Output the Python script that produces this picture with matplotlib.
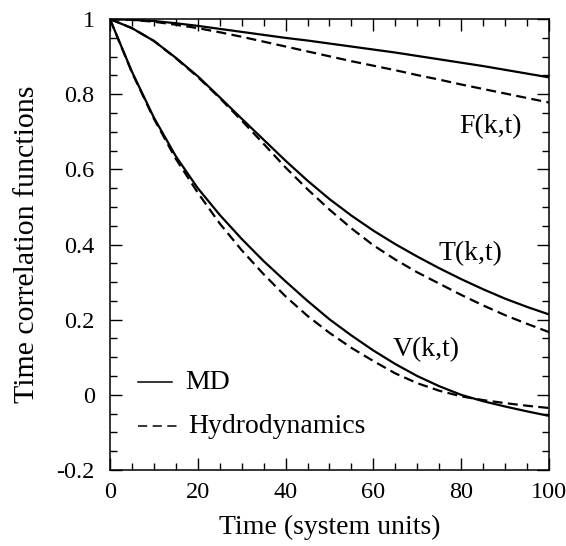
import numpy as np
import matplotlib.pyplot as plt
from matplotlib.ticker import MultipleLocator

plt.rcParams['font.family'] = ['Liberation Serif', 'DejaVu Serif']

t = [0, 5, 10, 15, 20, 25, 30, 35, 40, 45, 50, 55, 60, 65, 70, 75, 80, 85, 90, 95, 100]

# F(k,t)
F_md = [1.0, 0.998, 0.995, 0.989, 0.982, 0.974, 0.966, 0.958, 0.95, 0.943, 0.935, 0.927, 0.919,
        0.911, 0.902, 0.893, 0.884, 0.875, 0.865, 0.855, 0.845]
F_hy = [1.0, 0.998, 0.993, 0.985, 0.976, 0.965, 0.953, 0.94, 0.927, 0.914, 0.901, 0.888, 0.876,
        0.864, 0.851, 0.839, 0.826, 0.814, 0.802, 0.79, 0.778]
# T(k,t)
T_md = [1.0, 0.976, 0.942, 0.897, 0.848, 0.792, 0.735, 0.679, 0.623, 0.57, 0.521, 0.477, 0.437,
        0.401, 0.368, 0.337, 0.308, 0.281, 0.256, 0.234, 0.214]
T_hy = [1.0, 0.976, 0.942, 0.896, 0.846, 0.79, 0.73, 0.668, 0.605, 0.547, 0.493, 0.443, 0.398,
        0.36, 0.326, 0.296, 0.266, 0.238, 0.212, 0.189, 0.167]
# V(k,t)
V_md = [1.0, 0.86, 0.738, 0.635, 0.55, 0.479, 0.415, 0.356, 0.302, 0.25, 0.201, 0.158, 0.118,
        0.082, 0.05, 0.023, 0.0, -0.017, -0.031, -0.044, -0.056]
V_hy = [1.0, 0.858, 0.735, 0.628, 0.538, 0.456, 0.385, 0.321, 0.262, 0.21, 0.165, 0.125, 0.09,
        0.057, 0.031, 0.011, -0.004, -0.014, -0.022, -0.029, -0.035]

fig = plt.figure(figsize=(5.66, 5.46), dpi=100)
ax = fig.add_axes([0.1943, 0.1392, 0.7757, 0.8258])

lw = 1.6
dash = (0, (4.5, 2.4))
ax.plot(t, F_md, 'k-', lw=lw)
ax.plot(t, F_hy, color='k', ls=dash, lw=lw)
ax.plot(t, T_md, 'k-', lw=lw)
ax.plot(t, T_hy, color='k', ls=dash, lw=lw)
ax.plot(t, V_md, 'k-', lw=lw)
ax.plot(t, V_hy, color='k', ls=dash, lw=lw)

ax.text(79.5, 0.715, 'F(k,t)', fontsize=20, va='center')
ax.text(74.8, 0.375, 'T(k,t)', fontsize=20, va='center')
ax.text(64.5, 0.12, 'V(k,t)', fontsize=20, va='center')

# legend drawn by hand
ax.plot([6.4, 14.1], [0.033, 0.033], 'k-', lw=1.1)
ax.text(17.1, 0.033, 'MD', fontsize=20, va='center')
ax.plot([6.4, 15.6], [-0.084, -0.084], color='k', ls=(0, (6, 3.6)), lw=1.1)
ax.text(17.8, -0.084, 'Hydrodynamics', fontsize=20, va='center')

ax.set_xlim(0, 100)
ax.set_ylim(-0.2, 1.0)
ax.xaxis.set_major_locator(MultipleLocator(20))
ax.xaxis.set_minor_locator(MultipleLocator(5))
ax.yaxis.set_minor_locator(MultipleLocator(0.05))
ax.set_yticks([-0.2, 0, 0.2, 0.4, 0.6, 0.8, 1.0])
ax.set_yticklabels(['-0.2', '0', '0.2', '0.4', '0.6', '0.8', '1'])
ax.tick_params(which='both', direction='in', top=True, right=True, labelsize=17.5, width=1)
ax.tick_params(which='major', length=8.5)
ax.tick_params(which='minor', length=5)
ax.tick_params(axis='y', pad=11)
ax.tick_params(axis='x', pad=9)
for s in ax.spines.values():
    s.set_linewidth(1.1)

ax.set_xlabel('Time (system units)', fontsize=20, labelpad=8)
ax.set_ylabel('Time correlation functions', fontsize=21.5, labelpad=12)

fig.savefig('out.png', dpi=100)
